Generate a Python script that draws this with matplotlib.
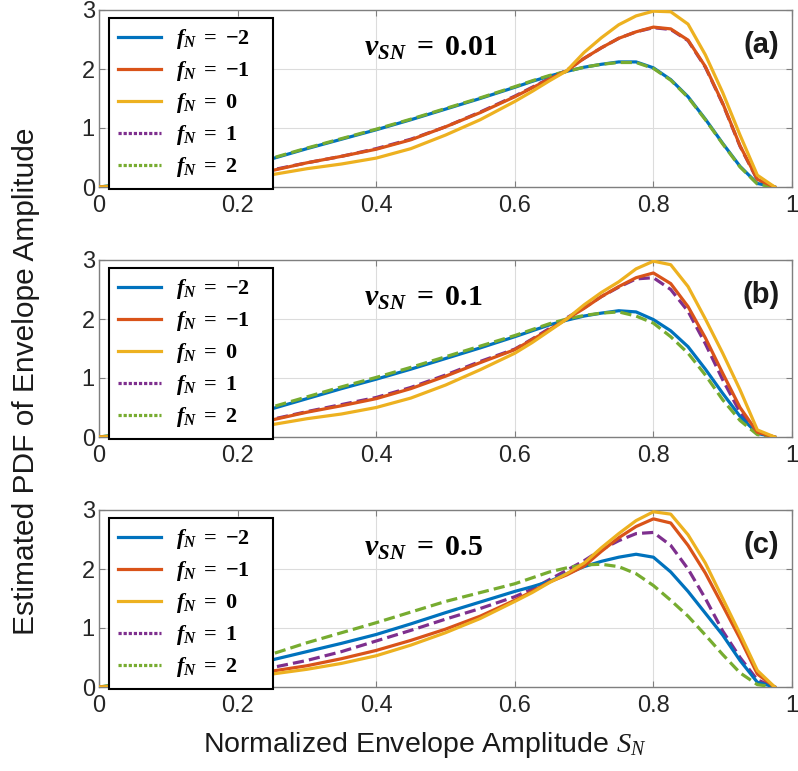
import matplotlib
matplotlib.use("Agg")
import matplotlib.pyplot as plt
from matplotlib.lines import Line2D

plt.rcParams['font.family'] = ['Liberation Sans', 'DejaVu Sans']
plt.rcParams['mathtext.fontset'] = 'custom'
plt.rcParams['mathtext.rm'] = 'Liberation Serif'
plt.rcParams['mathtext.it'] = 'Liberation Serif:italic'
plt.rcParams['mathtext.bf'] = 'Liberation Serif:bold'
plt.rcParams['mathtext.bfit'] = 'Liberation Serif:italic:bold'

# ---------------- data ----------------
x = [0, 0.05, 0.1, 0.15, 0.2, 0.25, 0.3, 0.35, 0.4, 0.45, 0.5, 0.55, 0.6, 0.625,
     0.65, 0.675, 0.7, 0.725, 0.75, 0.775, 0.8, 0.825, 0.85, 0.875, 0.9, 0.925, 0.95, 0.975]

fN_labels = ['-2', '-1', '0', '1', '2']
v_sn = ['0.01', '0.1', '0.5']
panel_tags = ['(a)', '(b)', '(c)']

# panel (a)  v_SN = 0.01
a_m2 = [0, 0.06, 0.15, 0.26, 0.37, 0.48, 0.65, 0.81, 0.97, 1.14, 1.32, 1.50, 1.69, 1.79,
        1.88, 1.96, 2.03, 2.08, 2.12, 2.12, 2.02, 1.82, 1.53, 1.15, 0.74, 0.35, 0.06, 0.0]
a_m1 = [0, 0.03, 0.07, 0.13, 0.20, 0.28, 0.41, 0.52, 0.64, 0.80, 1.02, 1.26, 1.53, 1.68,
        1.83, 1.97, 2.18, 2.36, 2.52, 2.63, 2.71, 2.68, 2.49, 2.04, 1.42, 0.70, 0.13, 0.0]
a_0 = [0, 0.02, 0.05, 0.09, 0.14, 0.21, 0.31, 0.39, 0.49, 0.65, 0.88, 1.14, 1.45, 1.62,
       1.80, 1.97, 2.28, 2.53, 2.75, 2.90, 2.98, 2.97, 2.76, 2.24, 1.60, 0.88, 0.20, 0.0]
a_p1 = [0, 0.03, 0.07, 0.13, 0.20, 0.29, 0.41, 0.52, 0.65, 0.81, 1.02, 1.27, 1.54, 1.69,
        1.84, 1.98, 2.18, 2.36, 2.52, 2.63, 2.70, 2.67, 2.48, 2.03, 1.41, 0.69, 0.12, 0.0]
a_p2 = [0, 0.06, 0.15, 0.26, 0.38, 0.49, 0.66, 0.82, 0.98, 1.15, 1.33, 1.51, 1.70, 1.80,
        1.89, 1.96, 2.03, 2.08, 2.11, 2.11, 2.01, 1.81, 1.52, 1.14, 0.73, 0.34, 0.05, 0.0]

# panel (b)  v_SN = 0.1
b_m2 = [0, 0.06, 0.15, 0.26, 0.37, 0.48, 0.65, 0.82, 0.98, 1.15, 1.33, 1.51, 1.70, 1.80,
        1.90, 1.98, 2.05, 2.10, 2.14, 2.12, 1.99, 1.80, 1.53, 1.15, 0.74, 0.35, 0.06, 0.0]
b_m1 = [0, 0.03, 0.07, 0.13, 0.20, 0.29, 0.42, 0.53, 0.65, 0.82, 1.03, 1.26, 1.48, 1.65,
        1.82, 2.00, 2.18, 2.38, 2.55, 2.70, 2.78, 2.60, 2.21, 1.68, 1.08, 0.50, 0.08, 0.0]
b_0 = [0, 0.02, 0.05, 0.09, 0.14, 0.21, 0.31, 0.39, 0.50, 0.66, 0.88, 1.14, 1.42, 1.60,
       1.80, 2.00, 2.24, 2.45, 2.63, 2.85, 2.98, 2.92, 2.55, 2.00, 1.42, 0.80, 0.12, 0.0]
b_p1 = [0, 0.03, 0.07, 0.13, 0.21, 0.30, 0.43, 0.55, 0.67, 0.84, 1.05, 1.28, 1.49, 1.66,
        1.84, 2.02, 2.19, 2.38, 2.54, 2.68, 2.70, 2.50, 2.13, 1.58, 0.97, 0.42, 0.06, 0.0]
b_p2 = [0, 0.07, 0.16, 0.28, 0.40, 0.51, 0.68, 0.85, 1.01, 1.18, 1.36, 1.54, 1.72, 1.82,
        1.92, 2.00, 2.06, 2.10, 2.12, 2.05, 1.93, 1.70, 1.42, 1.05, 0.63, 0.28, 0.04, 0.0]

# panel (c)  v_SN = 0.5
c_m2 = [0, 0.06, 0.15, 0.25, 0.35, 0.46, 0.60, 0.74, 0.89, 1.07, 1.26, 1.44, 1.62, 1.70,
        1.79, 1.92, 2.04, 2.13, 2.20, 2.25, 2.20, 1.95, 1.62, 1.25, 0.88, 0.45, 0.08, 0.0]
c_m1 = [0, 0.03, 0.07, 0.13, 0.20, 0.27, 0.36, 0.48, 0.62, 0.79, 0.98, 1.20, 1.47, 1.62,
        1.78, 1.90, 2.05, 2.30, 2.53, 2.72, 2.85, 2.78, 2.40, 1.93, 1.38, 0.82, 0.22, 0.0]
c_0 = [0, 0.02, 0.05, 0.10, 0.15, 0.22, 0.30, 0.40, 0.53, 0.71, 0.92, 1.16, 1.45, 1.60,
       1.77, 1.92, 2.10, 2.36, 2.60, 2.82, 2.97, 2.93, 2.58, 2.10, 1.50, 0.90, 0.28, 0.0]
c_p1 = [0, 0.04, 0.10, 0.17, 0.24, 0.33, 0.45, 0.60, 0.78, 0.96, 1.15, 1.33, 1.53, 1.66,
        1.82, 1.98, 2.14, 2.33, 2.48, 2.60, 2.62, 2.40, 2.00, 1.50, 0.95, 0.50, 0.12, 0.0]
c_p2 = [0, 0.08, 0.20, 0.30, 0.42, 0.56, 0.75, 0.92, 1.09, 1.27, 1.45, 1.60, 1.75, 1.85,
        1.95, 2.02, 2.07, 2.08, 2.04, 1.92, 1.72, 1.47, 1.20, 0.88, 0.55, 0.24, 0.04, 0.0]

panels = [[a_m2, a_m1, a_0, a_p1, a_p2],
          [b_m2, b_m1, b_0, b_p1, b_p2],
          [c_m2, c_m1, c_0, c_p1, c_p2]]

colors = ['#0072BD', '#D95319', '#EDB120', '#7E2F8E', '#77AC30']
styles = ['-', '-', '-', (0, (3.5, 1.6)), (0, (3.5, 1.6))]
leg_styles = ['-', '-', '-', (0, (1, 0.6)), (0, (1, 0.6))]

# ---------------- figure ----------------
fig = plt.figure(figsize=(7.98, 7.71), dpi=100)
W = 798.0
H = 771.0
left = 99 / W
width = (792 - 99) / W
tops = [10, 260, 510]
bots = [187, 437, 687]

axis_gray = '#7f7f7f'
tick_color = '#262626'

for i in range(3):
    ax = fig.add_axes([left, 1 - bots[i] / H, width, (bots[i] - tops[i]) / H])
    for k in range(5):
        ax.plot(x, panels[i][k], color=colors[k], lw=2.3, ls=styles[k],
                zorder=3 + (k if k < 3 else k - 3.5))
    ax.set_xlim(0, 1)
    ax.set_ylim(0, 3)
    ax.set_xticks([0, 0.2, 0.4, 0.6, 0.8, 1])
    ax.set_xticklabels(['0', '0.2', '0.4', '0.6', '0.8', '1'])
    ax.set_yticks([0, 1, 2, 3])
    ax.grid(True, color='#dcdcdc', lw=0.8)
    ax.set_axisbelow(True)
    for s in ax.spines.values():
        s.set_color(axis_gray)
        s.set_linewidth(1.0)
    ax.tick_params(direction='in', top=True, right=True, length=4, width=0.8,
                   color=axis_gray, labelsize=17, labelcolor=tick_color, pad=3)
    ax.tick_params(axis='x', pad=6)

    handles = [Line2D([], [], color=colors[k], lw=2.3, ls=leg_styles[k]) for k in range(5)]
    labels = [r'$\mathbfit{f}_{\mathbfit{N}}\ \mathbf{=}\ \mathbf{' + lab.replace('-', '\u2212') + '}$'
              for lab in fN_labels]
    leg = ax.legend(handles, labels, loc='upper left',
                    bbox_to_anchor=(0.0144, 0.0226, 0.2367, 0.9324), mode='expand',
                    borderaxespad=0, fontsize=16, labelspacing=0.36, handlelength=1.9,
                    handletextpad=0.7, borderpad=0.42, fancybox=False, framealpha=1)
    leg.get_frame().set_edgecolor('black')
    leg.get_frame().set_linewidth(1.5)
    leg.set_zorder(10)

    ax.text(0.382, 2.35, r'$\mathbfit{v}_{\mathbfit{SN}}\ \mathbf{=}\ \mathbf{' + v_sn[i] + '}$',
            fontsize=21.5, ha='left', va='center', zorder=11)
    ax.text(0.982, 2.4, panel_tags[i], fontsize=21, fontweight='bold', ha='right',
            va='center', color='#1a1a1a', zorder=11)

fig.text(0.533, 0.034, r'Normalized Envelope Amplitude $S_N$', fontsize=20.5,
         ha='center', va='center', color='#1a1a1a')
fig.text(0.032, 0.505, 'Estimated PDF of Envelope Amplitude', fontsize=21.5, rotation=90,
         ha='center', va='center', color='#1a1a1a')

fig.savefig('out.png', dpi=100)
